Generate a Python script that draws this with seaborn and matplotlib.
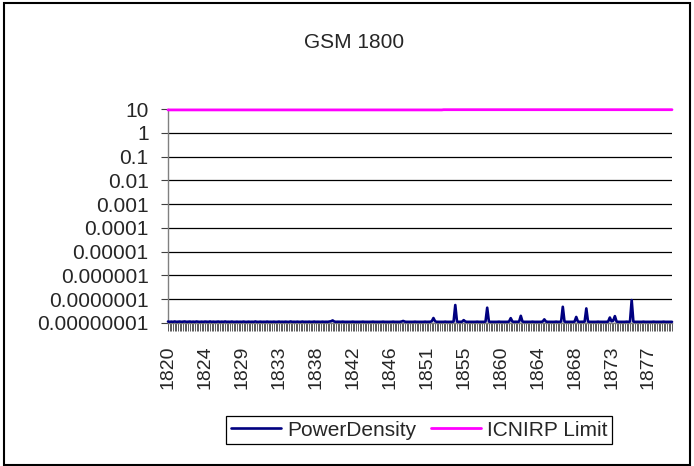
import numpy as np
import pandas as pd
import matplotlib
matplotlib.use("Agg")
import matplotlib.pyplot as plt
import seaborn as sns
from matplotlib.patches import Rectangle
from matplotlib.ticker import NullLocator

sns.set_style("white")
plt.rcParams['font.family'] = ['Liberation Sans', 'DejaVu Sans']

# Canais (MHz), passo de 0.2
freq = np.round(np.arange(1820.0, 1880.01, 0.2), 1)

# Densidade de potencia, em unidades de 1e-8
power_e8 = [
    1.15, 1.12, 1.14, 1.12, 1.16, 1.12, 1.13, 1.15, 1.12, 1.14, 1.16, 1.12, 1.13, 1.15, 1.12, 1.14, 1.12, 1.16, 1.13, 1.12,
    1.14, 1.12, 1.15, 1.13, 1.12, 1.16, 1.12, 1.14, 1.12, 1.13, 1.15, 1.12, 1.14, 1.12, 1.16, 1.12, 1.13, 1.12, 1.15, 1.12,
    1.12, 1.14, 1.12, 1.13, 1.12, 1.15, 1.12, 1.12, 1.14, 1.12, 1.13, 1.12, 1.16, 1.12, 1.12, 1.14, 1.12, 1.13, 1.12, 1.15,
    1.12, 1.13, 1.12, 1.14, 1.12, 1.12, 1.15, 1.12, 1.13, 1.12, 1.14, 1.12, 1.12, 1.16, 1.12, 1.13, 1.12, 1.14, 1.12, 1.12,
    1.15, 1.12, 1.13, 1.12, 1.14, 1.12, 1.12, 1.15, 1.12, 1.13, 1.12, 1.12, 1.14, 1.12, 1.13, 1.12, 1.15, 1.18, 1.28, 1.15,
    1.12, 1.13, 1.12, 1.12, 1.14, 1.12, 1.12, 1.13, 1.12, 1.12, 1.14, 1.12, 1.12, 1.13, 1.12, 1.12, 1.14, 1.12, 1.12, 1.13,
    1.12, 1.12, 1.14, 1.12, 1.12, 1.13, 1.12, 1.12, 1.14, 1.12, 1.12, 1.13, 1.12, 1.12, 1.14, 1.12, 1.12, 1.13, 1.12, 1.15,
    1.22, 1.14, 1.12, 1.12, 1.13, 1.12, 1.12, 1.14, 1.12, 1.12, 1.13, 1.12, 1.12, 1.14, 1.12, 1.12, 1.13, 1.18, 1.62, 1.18,
    1.12, 1.12, 1.13, 1.12, 1.12, 1.14, 1.12, 1.12, 1.13, 1.12, 1.15, 5.70, 1.15, 1.12, 1.12, 1.13, 1.32, 1.15, 1.12, 1.12,
    1.12, 1.13, 1.12, 1.12, 1.14, 1.12, 1.12, 1.13, 1.12, 1.15, 4.40, 1.15, 1.12, 1.12, 1.13, 1.12, 1.12, 1.14, 1.12, 1.12,
    1.13, 1.12, 1.12, 1.15, 1.60, 1.15, 1.12, 1.13, 1.12, 1.15, 2.00, 1.15, 1.12, 1.12, 1.13, 1.12, 1.12, 1.14, 1.12, 1.12,
    1.13, 1.12, 1.12, 1.15, 1.42, 1.15, 1.12, 1.12, 1.13, 1.12, 1.12, 1.14, 1.12, 1.12, 1.15, 4.80, 1.15, 1.12, 1.12, 1.13,
    1.12, 1.12, 1.15, 1.80, 1.15, 1.12, 1.12, 1.13, 1.15, 4.10, 1.15, 1.12, 1.12, 1.13, 1.12, 1.12, 1.14, 1.12, 1.12, 1.13,
    1.12, 1.12, 1.15, 1.70, 1.18, 1.25, 1.95, 1.15, 1.12, 1.12, 1.13, 1.12, 1.12, 1.14, 1.12, 1.15, 9.20, 1.15, 1.12, 1.12,
    1.13, 1.12, 1.12, 1.14, 1.12, 1.12, 1.13, 1.12, 1.12, 1.14, 1.12, 1.12, 1.13, 1.12, 1.12, 1.14, 1.12, 1.12, 1.13, 1.12,
    1.12,
]

# Limite ICNIRP (W/m2): dois patamares quase iguais
icnirp_limit = [9.15] * 164 + [9.35] * 137

xtick_labels = ['1820', '1824', '1829', '1833', '1838', '1842', '1846',
                '1851', '1855', '1860', '1864', '1868', '1873', '1877']
ytick_values = [10, 1, 0.1, 0.01, 0.001, 0.0001, 0.00001, 0.000001, 0.0000001, 0.00000001]
ytick_labels = ['10', '1', '0.1', '0.01', '0.001', '0.0001', '0.00001',
                '0.000001', '0.0000001', '0.00000001']

df = pd.DataFrame({
    'idx': np.arange(len(freq)),
    'freq': freq,
    'PowerDensity': np.array(power_e8) * 1e-8,
    'ICNIRP Limit': icnirp_limit,
})

fs = 15      # textos horizontais
fs_x = 14    # rotulos do eixo x (verticais)
fig = plt.figure(figsize=(6.94, 4.66), dpi=100)
ax = fig.add_axes([168 / 694, 1 - 323 / 466, 504 / 694, 214 / 466])

ax.set_yscale('log')
ax.grid(axis='y', color='black', linewidth=0.9, zorder=0)
ax.set_axisbelow(True)

sns.lineplot(data=df, x='idx', y='PowerDensity', color='#000080', linewidth=1.9,
             ax=ax, label='PowerDensity', legend=False, zorder=3)
sns.lineplot(data=df, x='idx', y='ICNIRP Limit', color='#FF00FF', linewidth=2.0,
             ax=ax, label='ICNIRP Limit', legend=False, zorder=4)
for ln in ax.lines:
    ln.set_clip_on(False)

ax.set_xlim(0, len(freq) - 1)
ax.set_ylim(1e-8, 10)
ax.set_yticks(ytick_values)
ax.set_yticklabels(ytick_labels)
ax.yaxis.set_minor_locator(NullLocator())

label_pos = list(range(0, len(freq), 22))[:len(xtick_labels)]
ax.set_xticks(label_pos)
ax.set_xticklabels(xtick_labels, rotation=90)
ax.set_xticks(df['idx'], minor=True)

ax.tick_params(axis='x', which='both', direction='out', length=6, width=0.6,
               color='#404040', pad=10, labelsize=fs_x, bottom=True)
ax.tick_params(axis='y', which='major', direction='out', length=5, width=0.8,
               color='#404040', pad=9, labelsize=fs, left=True)
ax.set_xlabel('')
ax.set_ylabel('')

for side in ['top', 'right']:
    ax.spines[side].set_visible(False)
for side in ['left', 'bottom']:
    ax.spines[side].set_color('#808080')
    ax.spines[side].set_linewidth(1.0)
    ax.spines[side].set_zorder(2)

fig.text(354 / 694, 1 - 42 / 466, 'GSM 1800', ha='center', va='center', fontsize=fs)

handles, labels = ax.get_legend_handles_labels()
leg = fig.legend(handles, labels, loc='center', bbox_to_anchor=(419 / 694, 1 - 430 / 466),
                 ncol=2, frameon=True, fancybox=False, edgecolor='black', framealpha=1,
                 fontsize=fs, handlelength=2.4, handletextpad=0.3, columnspacing=0.7,
                 borderpad=0.2, borderaxespad=0)
leg.get_frame().set_linewidth(0.9)

fig.patches.append(Rectangle((4 / 694, 1 - 465 / 466), 686 / 694, 462 / 466,
                             transform=fig.transFigure, fill=False,
                             edgecolor='black', linewidth=1.5))

fig.savefig('out.png', dpi=100)
